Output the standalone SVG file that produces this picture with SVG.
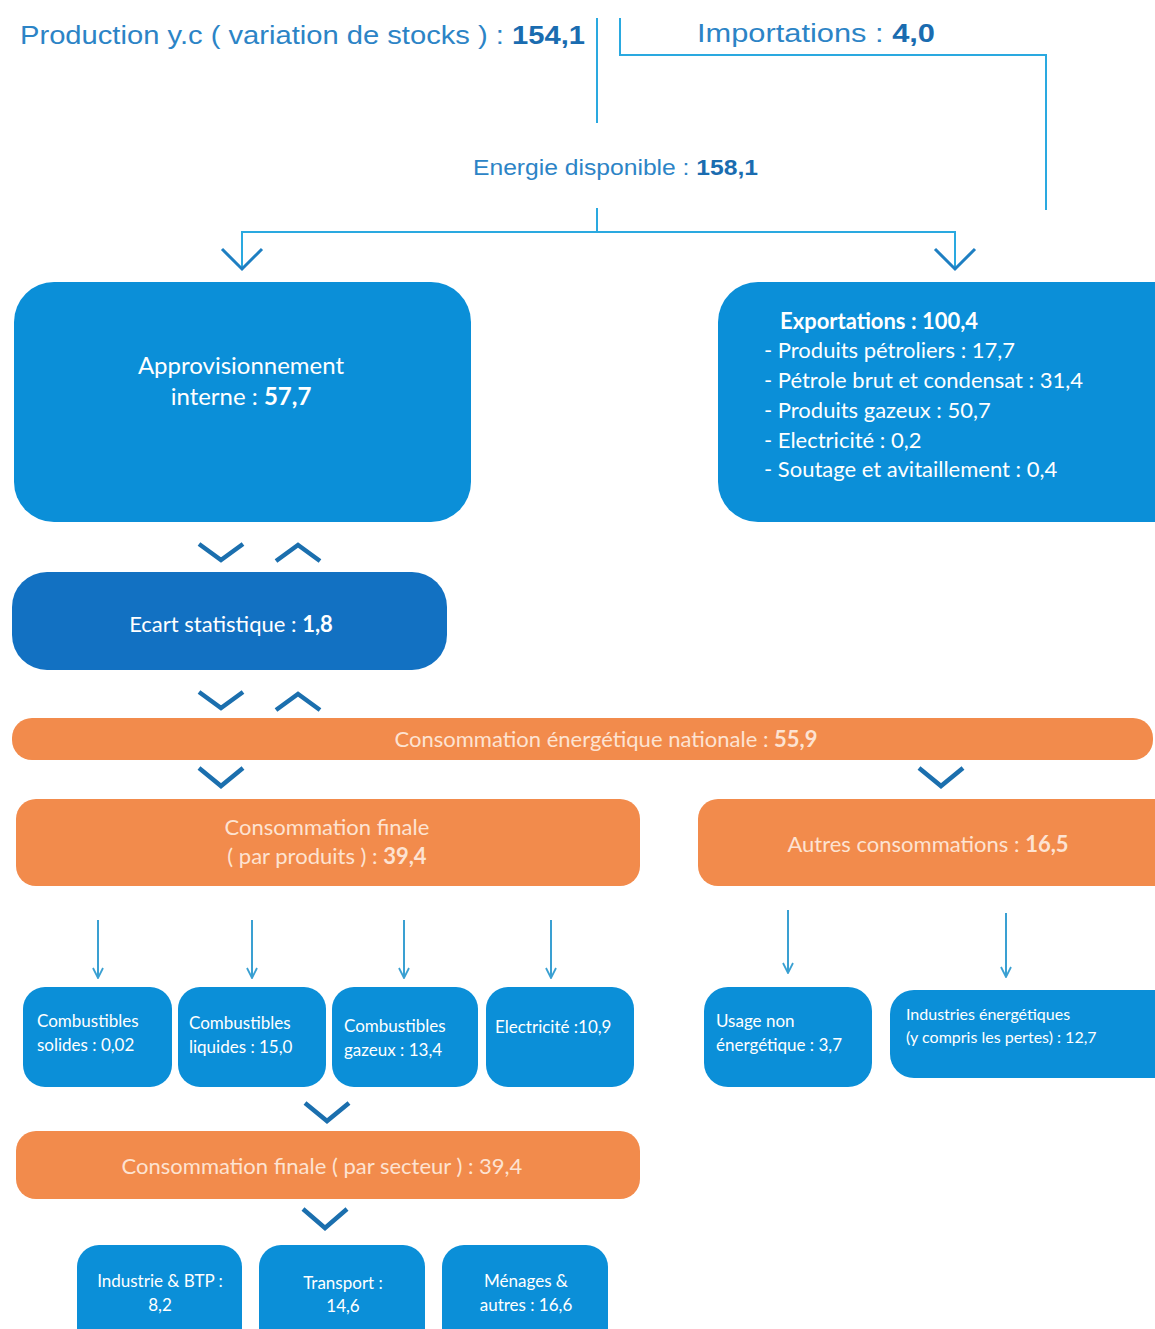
<svg xmlns="http://www.w3.org/2000/svg" width="1155" height="1329" viewBox="0 0 1155 1329">
<style>
.top{font-family:"Liberation Sans",Arial,sans-serif;fill:#2c84c6;}
.b{font-weight:bold;fill:#1a6cb0;}
.t{font-family:Lato,"Open Sans","Liberation Sans",sans-serif;fill:#ffffff;}
.to{font-family:Lato,"Open Sans","Liberation Sans",sans-serif;fill:#fde3d2;}
.blue{fill:#0b8fd8;}
.dark{fill:#1271c2;}
.orange{fill:#f28b4c;}
.ln{fill:none;stroke:#2aa9e0;stroke-width:2;}
.thin{fill:none;stroke:#3aa0d2;stroke-width:2;}
.chev{fill:none;stroke:#1b6fae;stroke-width:4.5;stroke-linejoin:miter;}
.ah{fill:none;stroke:#1e7fc2;stroke-width:3;}
</style>
<defs>
<marker id="tip" viewBox="0 0 12 12" refX="11" refY="6" markerWidth="12" markerHeight="12" markerUnits="userSpaceOnUse" orient="auto">
<path d="M1,1 L11,6 L1,11" fill="none" stroke="#3aa0d2" stroke-width="1.8"/>
</marker>
</defs>
<rect width="1155" height="1329" fill="#ffffff"/>

<g id="production"><text class="top" x="20" y="44" font-size="26" textLength="565" lengthAdjust="spacingAndGlyphs">Production y.c ( variation de stocks ) : <tspan class="b">154,1</tspan></text></g>
<g id="importations"><text class="top" x="697" y="42" font-size="26" textLength="238" lengthAdjust="spacingAndGlyphs">Importations : <tspan class="b">4,0</tspan></text></g>
<g id="energie"><text class="top" x="473" y="175" font-size="22" textLength="285" lengthAdjust="spacingAndGlyphs">Energie disponible : <tspan class="b">158,1</tspan></text></g>

<g id="connectors">
<path class="ln" d="M597,18 V123"/>
<path class="ln" d="M620,18 V55 H1046 V210"/>
<path class="ln" d="M597,208 V232"/>
<path class="ln" d="M242,268 V232 H955 V268"/>
<path class="ah" d="M222,249 L242,269 L262,249"/>
<path class="ah" d="M935,249 L955,269 L975,249"/>
<path class="chev" d="M199,544 L221,560 L243,544"/>
<path class="chev" d="M276,561 L298,545 L320,561"/>
<path class="chev" d="M199,692 L221,708 L243,692"/>
<path class="chev" d="M276,710 L298,694 L320,710"/>
<path class="chev" d="M199,768 L221,786 L243,768"/>
<path class="chev" d="M919,768 L941,786 L963,768"/>
<path class="thin" d="M98,920 V978" marker-end="url(#tip)"/>
<path class="thin" d="M252,920 V978" marker-end="url(#tip)"/>
<path class="thin" d="M404,920 V978" marker-end="url(#tip)"/>
<path class="thin" d="M551,920 V978" marker-end="url(#tip)"/>
<path class="thin" d="M788,910 V973" marker-end="url(#tip)"/>
<path class="thin" d="M1006,913 V977" marker-end="url(#tip)"/>
<path class="chev" d="M305,1103 L327,1121 L349,1103"/>
<path class="chev" d="M303,1209 L325,1228 L347,1209"/>
</g>

<g id="approvisionnement">
<rect class="blue" x="14" y="282" width="457" height="240" rx="40"/>
<text class="t" x="241" y="374" font-size="24" text-anchor="middle">Approvisionnement</text>
<text class="t" x="241" y="405" font-size="24" text-anchor="middle">interne : <tspan font-weight="bold">57,7</tspan></text>
</g>

<g id="exportations">
<rect class="blue" x="718" y="282" width="480" height="240" rx="40"/>
<text class="t" x="780" y="329" font-size="22" font-weight="bold">Exportations : 100,4</text>
<text class="t" x="764" y="358" font-size="22">- Produits pétroliers : 17,7</text>
<text class="t" x="764" y="388" font-size="22">- Pétrole brut et condensat : 31,4</text>
<text class="t" x="764" y="418" font-size="22">- Produits gazeux : 50,7</text>
<text class="t" x="764" y="448" font-size="22">- Electricité : 0,2</text>
<text class="t" x="764" y="477" font-size="22">- Soutage et avitaillement : 0,4</text>
</g>

<g id="ecart">
<rect class="dark" x="12" y="572" width="435" height="98" rx="35"/>
<text class="t" x="231" y="632" font-size="22" text-anchor="middle">Ecart statistique : <tspan font-weight="bold">1,8</tspan></text>
</g>

<g id="nationale">
<rect class="orange" x="12" y="718" width="1141" height="42" rx="20"/>
<text class="to" x="606" y="747" font-size="22" text-anchor="middle">Consommation énergétique nationale : <tspan font-weight="bold">55,9</tspan></text>
</g>

<g id="finale-produits">
<rect class="orange" x="16" y="799" width="624" height="87" rx="20"/>
<text class="to" x="327" y="835" font-size="22" text-anchor="middle">Consommation finale</text>
<text class="to" x="327" y="864" font-size="22" text-anchor="middle">( par produits ) : <tspan font-weight="bold">39,4</tspan></text>
</g>

<g id="autres">
<rect class="orange" x="698" y="799" width="480" height="87" rx="20"/>
<text class="to" x="928" y="852" font-size="22" text-anchor="middle">Autres consommations : <tspan font-weight="bold">16,5</tspan></text>
</g>

<g id="solides">
<rect class="blue" x="23" y="987" width="149" height="100" rx="22"/>
<text class="t" x="37" y="1027" font-size="17">Combustibles</text>
<text class="t" x="37" y="1051" font-size="17">solides : 0,02</text>
</g>
<g id="liquides">
<rect class="blue" x="178" y="987" width="148" height="100" rx="22"/>
<text class="t" x="189" y="1029" font-size="17">Combustibles</text>
<text class="t" x="189" y="1053" font-size="17">liquides : 15,0</text>
</g>
<g id="gazeux">
<rect class="blue" x="332" y="987" width="146" height="100" rx="22"/>
<text class="t" x="344" y="1032" font-size="17">Combustibles</text>
<text class="t" x="344" y="1056" font-size="17">gazeux : 13,4</text>
</g>
<g id="electricite">
<rect class="blue" x="486" y="987" width="148" height="100" rx="22"/>
<text class="t" x="495" y="1033" font-size="17">Electricité :10,9</text>
</g>
<g id="usage">
<rect class="blue" x="704" y="987" width="168" height="100" rx="24"/>
<text class="t" x="716" y="1027" font-size="17">Usage non</text>
<text class="t" x="716" y="1051" font-size="17">énergétique : 3,7</text>
</g>
<g id="industries-energetiques">
<rect class="blue" x="890" y="990" width="290" height="88" rx="24"/>
<text class="t" x="906" y="1020" font-size="16">Industries énergétiques</text>
<text class="t" x="906" y="1043" font-size="16">(y compris les pertes) : 12,7</text>
</g>

<g id="finale-secteur">
<rect class="orange" x="16" y="1131" width="624" height="68" rx="20"/>
<text class="to" x="322" y="1174" font-size="22" text-anchor="middle">Consommation finale ( par secteur ) : 39,4</text>
</g>

<g id="industrie-btp">
<rect class="blue" x="77" y="1245" width="165" height="110" rx="22"/>
<text class="t" x="160" y="1287" font-size="17" text-anchor="middle">Industrie &amp; BTP :</text>
<text class="t" x="160" y="1311" font-size="17" text-anchor="middle">8,2</text>
</g>
<g id="transport">
<rect class="blue" x="259" y="1245" width="166" height="110" rx="22"/>
<text class="t" x="343" y="1289" font-size="17" text-anchor="middle">Transport :</text>
<text class="t" x="343" y="1312" font-size="17" text-anchor="middle">14,6</text>
</g>
<g id="menages">
<rect class="blue" x="442" y="1245" width="166" height="110" rx="22"/>
<text class="t" x="526" y="1287" font-size="17" text-anchor="middle">Ménages &amp;</text>
<text class="t" x="526" y="1311" font-size="17" text-anchor="middle">autres : 16,6</text>
</g>
</svg>
